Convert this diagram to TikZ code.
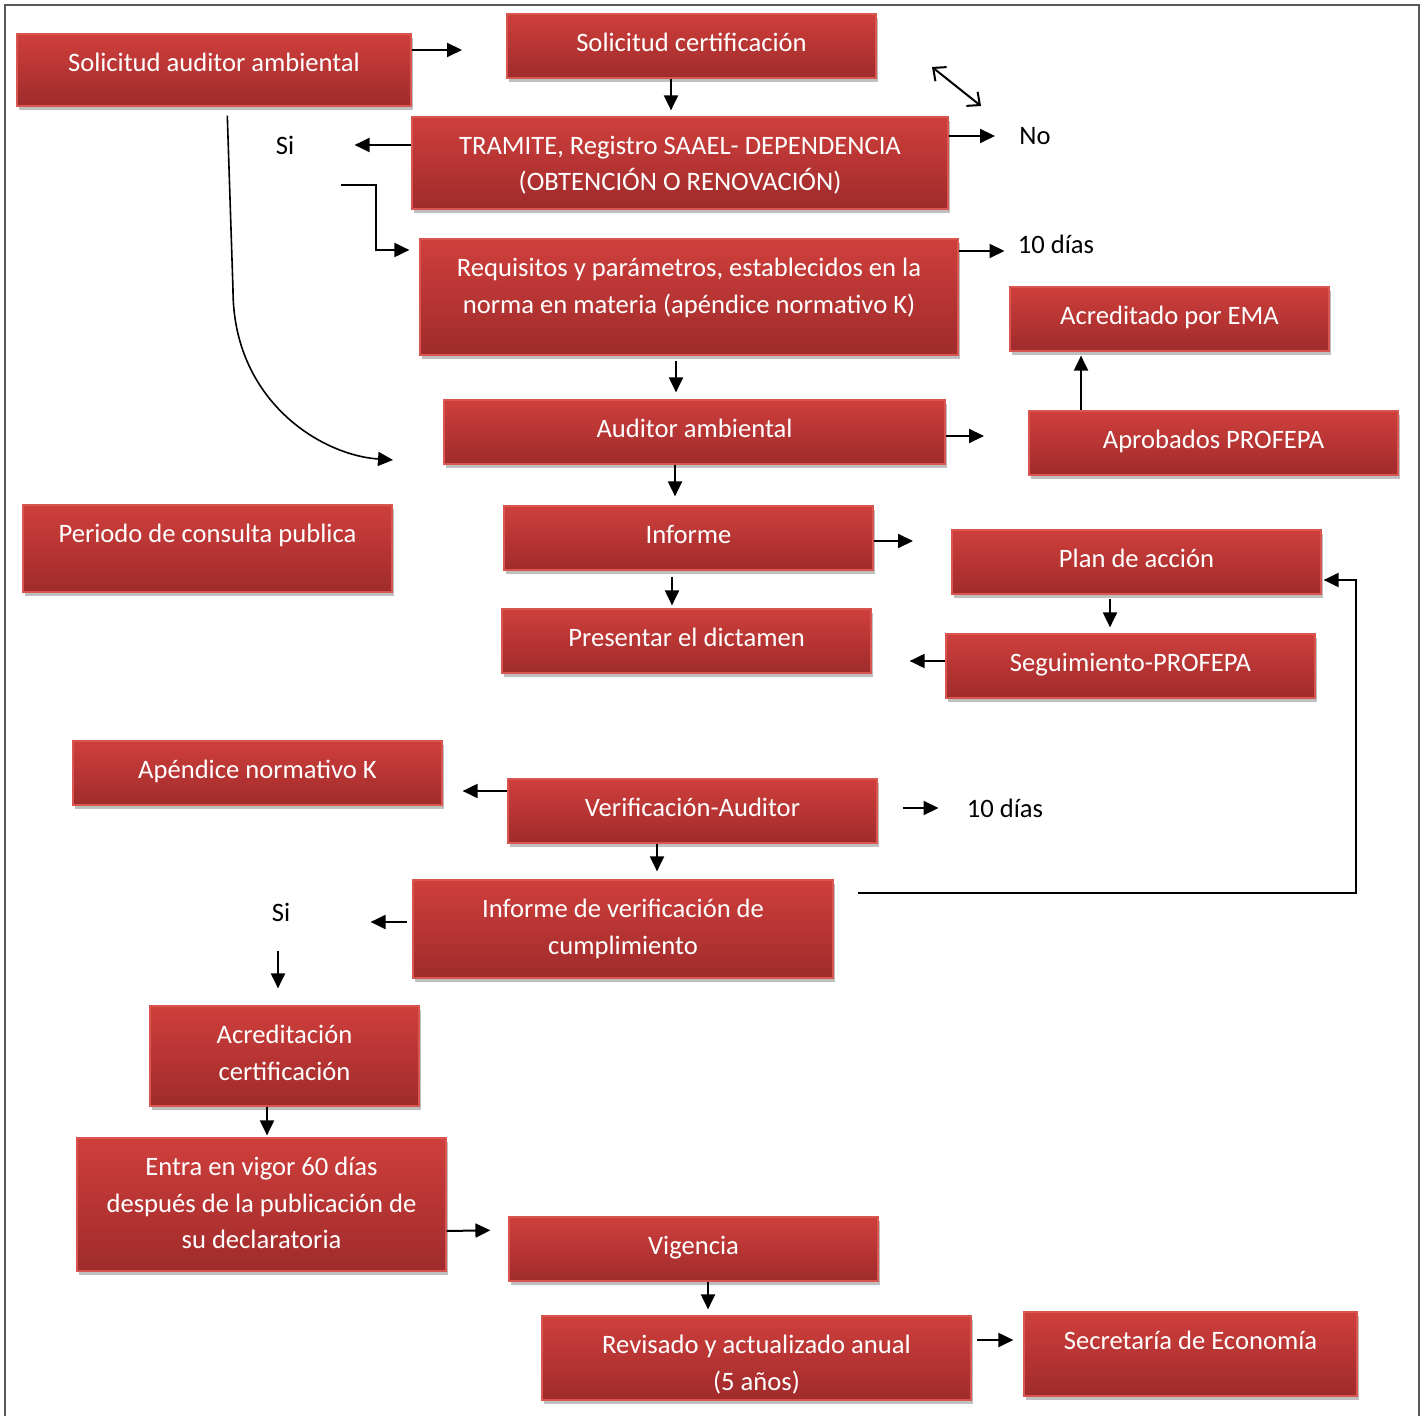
\documentclass[tikz,border=0pt]{standalone}
\usepackage{fontspec}
\setmainfont{Carlito}
\usetikzlibrary{positioning,arrows.meta,shadows}
\definecolor{boxtop}{HTML}{CF3F3C}
\definecolor{boxbot}{HTML}{9F2B2B}
\definecolor{boxedge}{HTML}{D85550}

\begin{document}
\begin{tikzpicture}[
x=0.5pt, y=-0.5pt,
box/.style={rectangle, draw=boxedge, line width=0.6pt, top color=boxtop, bottom color=boxbot,
  drop shadow={shadow xshift=1.2pt, shadow yshift=-1.8pt, opacity=0.25, fill=black}},
txt/.style={anchor=north, yshift=-9.6pt, inner sep=0pt, align=center, text=white, font=\fontsize{13.3}{18.3}\selectfont},
lbl/.style={inner sep=0pt, font=\fontsize{13.3}{18.3}\selectfont},
arr/.style={-{Triangle[length=7.5pt,width=7pt]}, line width=1pt},
dbl/.style={{Straight Barb[length=5pt,width=9pt]}-{Straight Barb[length=5pt,width=9pt]}, line width=1pt}
]
\useasboundingbox (0,0) rectangle (1422,1416);
\draw[black!65, line width=0.7pt] (5,5) rectangle (1419,1440);

%Nodes
\node[box, minimum width=197pt,   minimum height=36pt]   (sa) at (214,70)      {};
\node[box, minimum width=184.5pt, minimum height=32pt]   (sc) at (691.5,46)    {};
\node[box, minimum width=268pt,   minimum height=46pt]   (tr) at (680,163)     {};
\node[box, minimum width=269pt,   minimum height=58pt]   (rq) at (689,297)     {};
\node[box, minimum width=159.5pt, minimum height=32pt]   (em) at (1169.5,319)  {};
\node[box, minimum width=250.5pt, minimum height=32pt]   (au) at (694.5,432)   {};
\node[box, minimum width=184.5pt, minimum height=32pt]   (pr) at (1213.5,443)  {};
\node[box, minimum width=184.5pt, minimum height=43.5pt] (pc) at (207.5,548.5) {};
\node[box, minimum width=184.5pt, minimum height=32pt]   (in) at (688.5,538)   {};
\node[box, minimum width=184.5pt, minimum height=32pt]   (pa) at (1136.5,562)  {};
\node[box, minimum width=184.5pt, minimum height=32pt]   (pd) at (686.5,641)   {};
\node[box, minimum width=184.5pt, minimum height=32pt]   (sg) at (1130.5,666)  {};
\node[box, minimum width=184.5pt, minimum height=32pt]   (ak) at (257.5,773)   {};
\node[box, minimum width=184.5pt, minimum height=32pt]   (va) at (692.5,811)   {};
\node[box, minimum width=210pt,   minimum height=49pt]   (iv) at (623,929)     {};
\node[box, minimum width=134.5pt, minimum height=50pt]   (ac) at (284.5,1056)  {};
\node[box, minimum width=184.5pt, minimum height=66.5pt] (ev) at (261.5,1204.5){};
\node[box, minimum width=184.5pt, minimum height=32pt]   (vg) at (693.5,1249)  {};
\node[box, minimum width=214.5pt, minimum height=42pt]   (rv) at (756.5,1358)  {};
\node[box, minimum width=166.5pt, minimum height=42pt]   (se) at (1190.5,1354) {};

%Texts
\node[txt] (sa-t) at (sa.north) {Solicitud auditor ambiental};
\node[txt] (sc-t) at (sc.north) {Solicitud certificación};
\node[txt] (tr-t) at (tr.north) {TRAMITE, Registro SAAEL- DEPENDENCIA\\(OBTENCIÓN O RENOVACIÓN)};
\node[txt] (rq-t) at (rq.north) {Requisitos y parámetros, establecidos en la\\norma en materia (apéndice normativo K)};
\node[txt] (em-t) at (em.north) {Acreditado por EMA};
\node[txt] (au-t) at (au.north) {Auditor ambiental};
\node[txt] (pr-t) at (pr.north) {Aprobados PROFEPA};
\node[txt] (pc-t) at (pc.north) {Periodo de consulta publica};
\node[txt] (in-t) at (in.north) {Informe};
\node[txt] (pa-t) at (pa.north) {Plan de acción};
\node[txt] (pd-t) at (pd.north) {Presentar el dictamen};
\node[txt] (sg-t) at (sg.north) {Seguimiento-PROFEPA};
\node[txt] (ak-t) at (ak.north) {Apéndice normativo K};
\node[txt] (va-t) at (va.north) {Verificación-Auditor};
\node[txt] (iv-t) at (iv.north) {Informe de verificación de\\cumplimiento};
\node[txt] (ac-t) at (ac.north) {Acreditación\\certificación};
\node[txt] (ev-t) at (ev.north) {Entra en vigor 60 días\\después de la publicación de\\su declaratoria};
\node[txt] (vg-t) at (vg.north) {Vigencia};
\node[txt] (rv-t) at (rv.north) {Revisado y actualizado anual\\(5 años)};
\node[txt] (se-t) at (se.north) {Secretaría de Economía};

\node[lbl] (si1)  at (285,145)  {Si};
\node[lbl] (no)   at (1035,136) {No};
\node[lbl] (d10a) at (1056,244) {10 días};
\node[lbl] (d10b) at (1005,808) {10 días};
\node[lbl] (si2)  at (281,912)  {Si};

\coordinate (sa-out) at (462,50);
\coordinate (dbl-a)  at (932,67);
\coordinate (dbl-b)  at (981,106);
\coordinate (el-a)   at (341,185);
\coordinate (cv-end) at (393,460);
\coordinate (au-out) at (984,436);
\coordinate (in-out) at (913,541);

%Lines
\draw[arr] (sa.east |- sa-out) -- (sa-out);
\draw[arr, shorten >=3pt] (sc.south -| 671,0) -- (tr.north -| 671,0);
\draw[dbl] (dbl-a) -- (dbl-b);
\draw[arr, shorten >=12pt] (tr.east |- no) -- (no.west);
\draw[arr, shorten >=30pt] (tr.west |- si1) -- (si1.east);
\draw[arr, shorten >=5pt] (el-a) -- (376,185) -- (376,250) -- (rq.west |- 0,250);
\draw[arr, shorten >=6.5pt] (rq.east |- 0,251) -- (d10a.west |- 0,251);
\draw[arr, shorten <=2.5pt, shorten >=3.5pt] (rq.south -| 676,0) -- (au.north -| 676,0);
\draw[arr, line width=0.8pt, shorten <=4.5pt] (sa.south -| 227,0) -- (233,290) .. controls (233,400) and (320,455) .. (cv-end);
\draw[arr] (au.east |- au-out) -- (au-out);
\draw[arr, shorten >=2pt] (pr.north -| 1081,0) -- (em.south -| 1081,0);
\draw[arr, shorten >=4.5pt] (au.south -| 675,0) -- (in.north -| 675,0);
\draw[arr] (in.east |- in-out) -- (in-out);
\draw[arr, shorten <=3pt, shorten >=1.5pt] (in.south -| 672,0) -- (pd.north -| 672,0);
\draw[arr, shorten <=2pt, shorten >=3pt] (pa.south -| 1110,0) -- (sg.north -| 1110,0);
\draw[arr, shorten >=19pt] (sg.west |- 0,661) -- (pd.east |- 0,661);
\draw[arr, shorten >=10pt] (va.west |- 0,791) -- (ak.east |- 0,791);
\draw[arr, shorten <=12.5pt, shorten >=14pt] (va.east |- d10b) -- (d10b.west);
\draw[arr, shorten >=4pt] (va.south -| 657,0) -- (iv.north -| 657,0);
\draw[arr, shorten <=12pt, shorten >=1pt] (iv.east |- 0,893) -- (1356,893) |- (pa.east |- 0,580);
\draw[arr, shorten <=2.5pt, shorten >=40pt] (iv.west |- 0,922) -- (si2.east |- 0,922);
\draw[arr, shorten <=14.5pt, shorten >=8.5pt] (si2.south -| 278,0) -- (ac.north -| 278,0);
\draw[arr, shorten >=1pt] (ac.south -| 267,0) -- (ev.north -| 267,0);
\draw[arr, shorten >=9pt] (ev.east |- 0,1231) -- (vg.west |- 0,1230);
\draw[arr, shorten >=3pt] (vg.south -| 708,0) -- (rv.north -| 708,0);
\draw[arr, shorten <=2.5pt, shorten >=5pt] (rv.east |- 0,1340) -- (se.west |- 0,1340);
\end{tikzpicture}
\end{document}
